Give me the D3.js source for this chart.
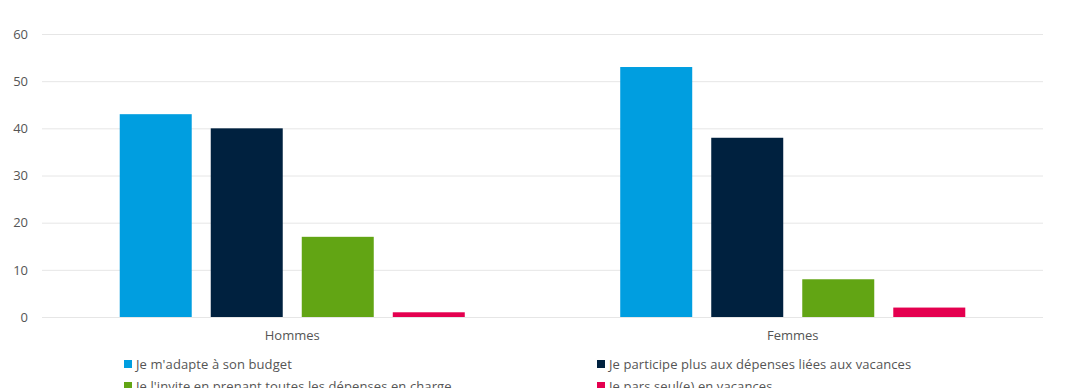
<!DOCTYPE html>
<html>
<head>
<meta charset="utf-8">
<script src="https://cdn.jsdelivr.net/npm/d3@7"></script>
<style>
html,body{margin:0;padding:0;background:#fff;}
svg{display:block;}
text{font-family:"Open Sans",sans-serif;}
</style>
</head>
<body>
<svg id="chart" width="1080" height="388"></svg>
<script>
const categories = ["Hommes", "Femmes"];
const seriesNames = [
  "Je m'adapte à son budget",
  "Je participe plus aux dépenses liées aux vacances",
  "Je l'invite en prenant toutes les dépenses en charge",
  "Je pars seul(e) en vacances"
];
const seriesColors = ["#009ee0", "#00213f", "#62a514", "#e4004f"];
const adapteValues = [43, 53];
const participeValues = [40, 38];
const inviteValues = [17, 8];
const seulValues = [1, 2];
const yTicks = [0, 10, 20, 30, 40, 50, 60];

const seriesValues = [adapteValues, participeValues, inviteValues, seulValues];

const svg = d3.select("#chart");
const margin = {left: 42, right: 37, top: 34, bottom: 71};
const W = 1080, H = 388;
const FONT = "'Open Sans', sans-serif";

const x0 = d3.scaleBand().domain(categories).range([margin.left, W - margin.right]).paddingInner(0).paddingOuter(0);
const x1 = d3.scaleBand().domain(seriesNames).range([0, x0.bandwidth()]).paddingInner(0.209).paddingOuter(0.854);
const y = d3.scaleLinear().domain([0, 60]).range([H - margin.bottom, margin.top]);

// gridlines
svg.append("g").selectAll("line").data(yTicks).join("line")
  .attr("x1", margin.left).attr("x2", W - margin.right)
  .attr("y1", d => y(d) + 0.5).attr("y2", d => y(d) + 0.5)
  .attr("stroke", "#e6e6e6").attr("stroke-width", 1);

// y axis labels
const yAxis = d3.axisLeft(y).tickValues(yTicks).tickSize(0).tickPadding(14);
const ya = svg.append("g").attr("transform", `translate(${margin.left},0)`).call(yAxis);
ya.select(".domain").remove();
ya.selectAll("text").attr("font-size", 13).attr("fill", "#555").attr("font-family", FONT);

// bars
const groups = svg.append("g").selectAll("g").data(categories).join("g")
  .attr("transform", d => `translate(${x0(d)},0)`);
groups.selectAll("rect").data((c, ci) => seriesNames.map((s, si) => ({s, si, v: seriesValues[si][ci]})))
  .join("rect")
  .attr("x", d => x1(d.s))
  .attr("width", x1.bandwidth())
  .attr("y", d => y(d.v))
  .attr("height", d => y(0) - y(d.v))
  .attr("fill", d => seriesColors[d.si]);

// x axis labels
const xAxis = d3.axisBottom(x0).tickSize(0).tickPadding(14);
const xa = svg.append("g").attr("transform", `translate(0,${y(0)})`).call(xAxis);
xa.select(".domain").remove();
xa.selectAll("text").attr("font-size", 13).attr("fill", "#555").attr("font-family", FONT);

// legend
const legendX = [124, 597];
const legendY = [369, 391];
const leg = svg.append("g").selectAll("g").data(seriesNames).join("g")
  .attr("transform", (d, i) => `translate(${legendX[i % 2]},${legendY[Math.floor(i / 2)]})`);
leg.append("rect").attr("x", 0).attr("y", -9).attr("width", 8).attr("height", 8)
  .attr("fill", (d, i) => seriesColors[i]);
leg.append("text").attr("x", 12).attr("y", 0).attr("font-size", 13).attr("fill", "#555")
  .attr("font-family", FONT)
  .attr("letter-spacing", 0.1)
  .text(d => d);
</script>
</body>
</html>
